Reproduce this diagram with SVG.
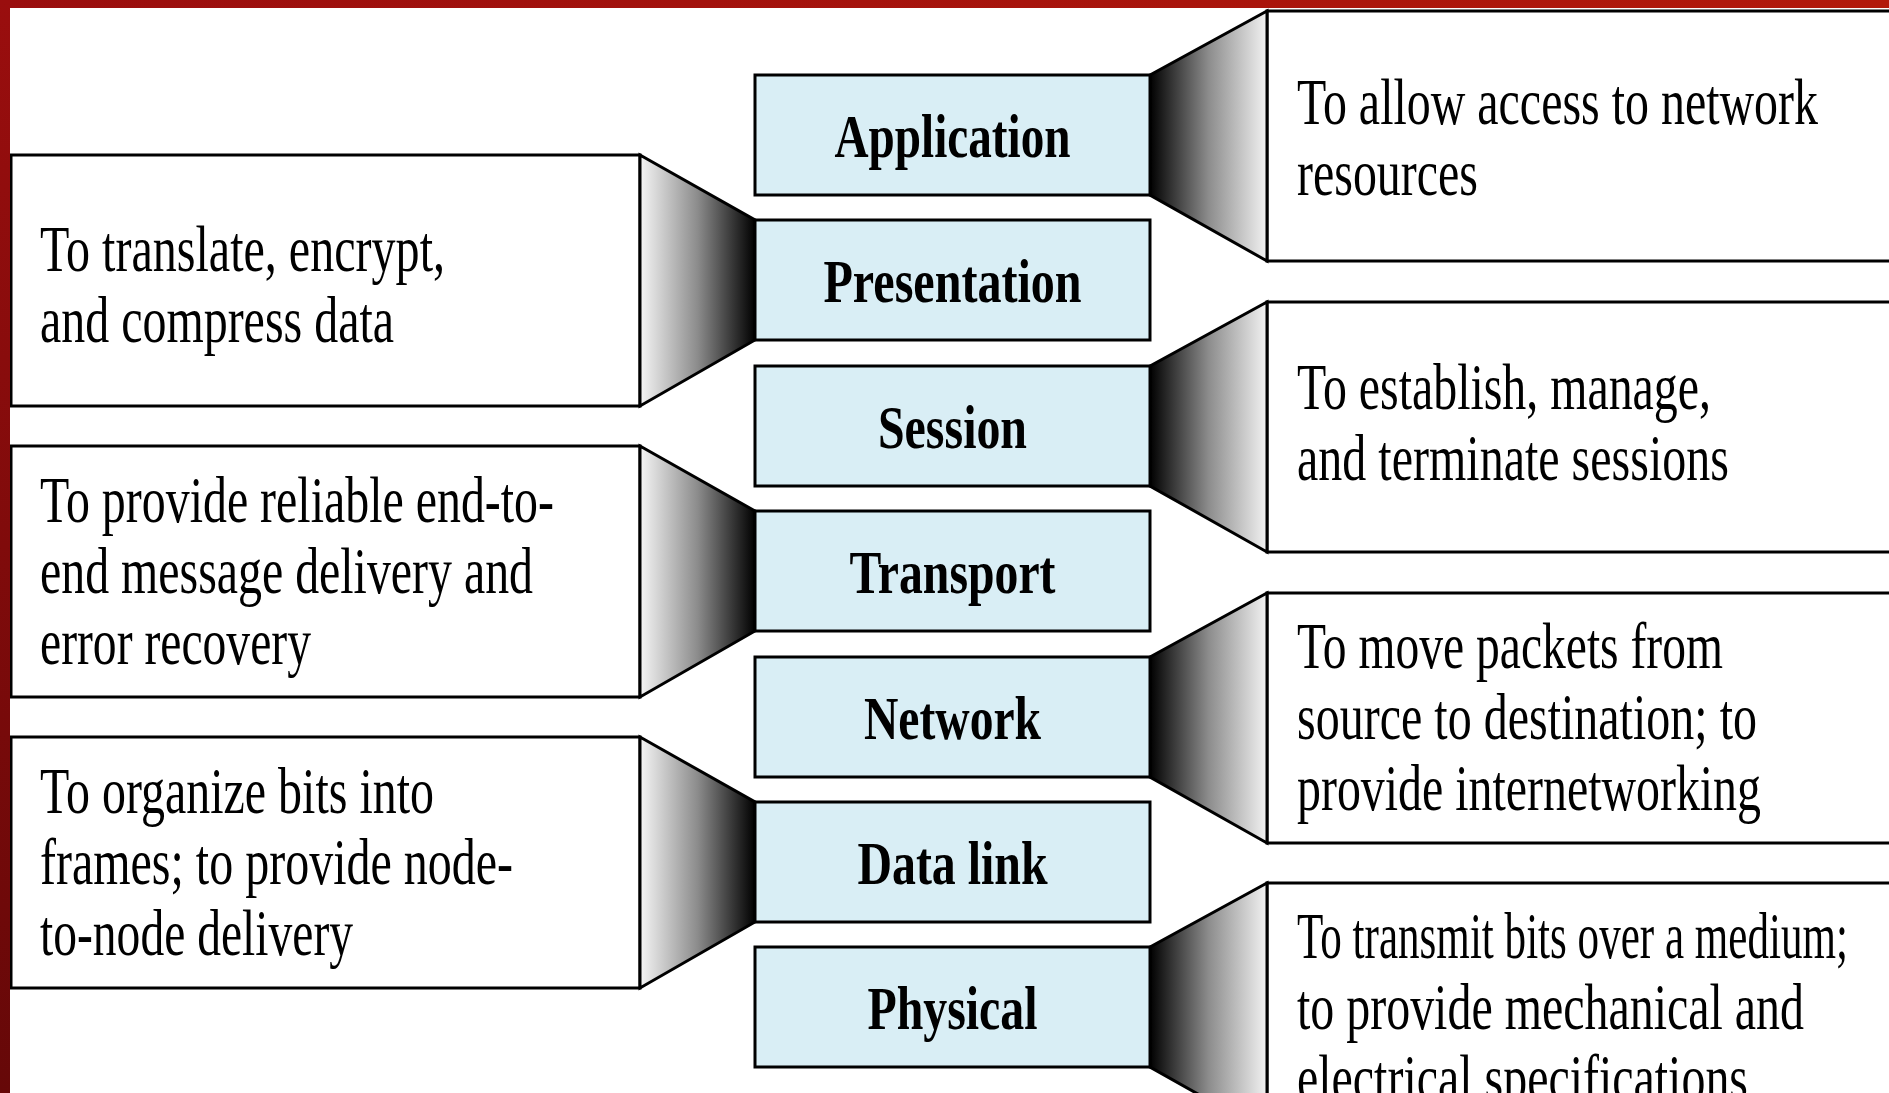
<svg xmlns="http://www.w3.org/2000/svg" width="1889" height="1093" viewBox="0 0 1889 1093">
  <defs>
    <linearGradient id="fadeToLayer" x1="0" y1="0" x2="1" y2="0">
      <stop offset="0" stop-color="#f5f5f5"/>
      <stop offset="0.5" stop-color="#8c8c8c"/>
      <stop offset="1" stop-color="#000"/>
    </linearGradient>
    <linearGradient id="fadeFromLayer" x1="0" y1="0" x2="1" y2="0">
      <stop offset="0" stop-color="#000"/>
      <stop offset="0.5" stop-color="#8c8c8c"/>
      <stop offset="1" stop-color="#f2f2f2"/>
    </linearGradient>
    <linearGradient id="frameTop" x1="0" y1="0" x2="1" y2="0">
      <stop offset="0" stop-color="#9a0e0e"/>
      <stop offset="1" stop-color="#b2190b"/>
    </linearGradient>
    <linearGradient id="frameLeft" x1="0" y1="0" x2="0" y2="1">
      <stop offset="0" stop-color="#9a0e0e"/>
      <stop offset="1" stop-color="#660808"/>
    </linearGradient>
  </defs>
  <style>
    .desc { fill: #fff; stroke: #000; stroke-width: 3; }
    .layer { fill: #d9eef5; stroke: #000; stroke-width: 3; }
    .wedgeL { fill: url(#fadeToLayer); stroke: #000; stroke-width: 3; stroke-linejoin: miter; }
    .wedgeR { fill: url(#fadeFromLayer); stroke: #000; stroke-width: 3; stroke-linejoin: miter; }
    .lbl { font-family: "Liberation Serif", "Times New Roman", serif; font-weight: bold; font-size: 62px; fill: #000; }
    /* tall, narrow face: set small and stretched vertically */
    .txt { font-family: "Liberation Serif", "Times New Roman", serif; font-size: 46px; fill: #000; }
  </style>

  <rect width="1889" height="1093" fill="#fff"/>

  <!-- description boxes, left column -->
  <g id="desc-presentation">
    <rect class="desc" x="11" y="155" width="629" height="251"/>
    <text class="txt" transform="translate(40,271) scale(1,1.41)" textLength="405" lengthAdjust="spacingAndGlyphs">To translate, encrypt,</text>
    <text class="txt" transform="translate(40,342) scale(1,1.41)" textLength="354" lengthAdjust="spacingAndGlyphs">and compress data</text>
  </g>
  <g id="desc-transport">
    <rect class="desc" x="11" y="446" width="629" height="251"/>
    <text class="txt" transform="translate(40,522) scale(1,1.41)" textLength="514" lengthAdjust="spacingAndGlyphs">To provide reliable end-to-</text>
    <text class="txt" transform="translate(40,593) scale(1,1.41)" textLength="493" lengthAdjust="spacingAndGlyphs">end message delivery and</text>
    <text class="txt" transform="translate(40,664) scale(1,1.41)" textLength="271" lengthAdjust="spacingAndGlyphs">error recovery</text>
  </g>
  <g id="desc-datalink">
    <rect class="desc" x="11" y="737" width="629" height="251"/>
    <text class="txt" transform="translate(40,813) scale(1,1.41)" textLength="394" lengthAdjust="spacingAndGlyphs">To organize bits into</text>
    <text class="txt" transform="translate(40,884) scale(1,1.41)" textLength="473" lengthAdjust="spacingAndGlyphs">frames; to provide node-</text>
    <text class="txt" transform="translate(40,955) scale(1,1.41)" textLength="313" lengthAdjust="spacingAndGlyphs">to-node delivery</text>
  </g>

  <!-- description boxes, right column -->
  <g id="desc-application">
    <rect class="desc" x="1267" y="11" width="640" height="250"/>
    <text class="txt" transform="translate(1297,124) scale(1,1.41)" textLength="521" lengthAdjust="spacingAndGlyphs">To allow access to network</text>
    <text class="txt" transform="translate(1297,195) scale(1,1.41)" textLength="181" lengthAdjust="spacingAndGlyphs">resources</text>
  </g>
  <g id="desc-session">
    <rect class="desc" x="1267" y="302" width="640" height="250"/>
    <text class="txt" transform="translate(1297,409) scale(1,1.41)" textLength="414" lengthAdjust="spacingAndGlyphs">To establish, manage,</text>
    <text class="txt" transform="translate(1297,480) scale(1,1.41)" textLength="432" lengthAdjust="spacingAndGlyphs">and terminate sessions</text>
  </g>
  <g id="desc-network">
    <rect class="desc" x="1267" y="593" width="640" height="250"/>
    <text class="txt" transform="translate(1297,668) scale(1,1.41)" textLength="426" lengthAdjust="spacingAndGlyphs">To move packets from</text>
    <text class="txt" transform="translate(1297,739) scale(1,1.41)" textLength="460" lengthAdjust="spacingAndGlyphs">source to destination; to</text>
    <text class="txt" transform="translate(1297,810) scale(1,1.41)" textLength="464" lengthAdjust="spacingAndGlyphs">provide internetworking</text>
  </g>
  <g id="desc-physical">
    <rect class="desc" x="1267" y="883" width="640" height="250"/>
    <text class="txt" transform="translate(1297,958) scale(1,1.41)" textLength="551" lengthAdjust="spacingAndGlyphs">To transmit bits over a medium;</text>
    <text class="txt" transform="translate(1297,1029) scale(1,1.41)" textLength="507" lengthAdjust="spacingAndGlyphs">to provide mechanical and</text>
    <text class="txt" transform="translate(1297,1100) scale(1,1.41)" textLength="451" lengthAdjust="spacingAndGlyphs">electrical specifications</text>
  </g>

  <!-- shaded wedges joining each layer to its description -->
  <g id="connectors">
    <polygon class="wedgeR" points="1150,75 1267,11 1267,261 1150,195"/>
    <polygon class="wedgeL" points="640,155 755,220 755,340 640,406"/>
    <polygon class="wedgeR" points="1150,366 1267,302 1267,552 1150,486"/>
    <polygon class="wedgeL" points="640,446 755,511 755,631 640,697"/>
    <polygon class="wedgeR" points="1150,657 1267,593 1267,843 1150,777"/>
    <polygon class="wedgeL" points="640,737 755,802 755,922 640,988"/>
    <polygon class="wedgeR" points="1150,947 1267,883 1267,1133 1150,1067"/>
  </g>

  <!-- the seven layers -->
  <g id="layer-application">
    <rect class="layer" x="755" y="75" width="395" height="120"/>
    <text class="lbl" x="834.5" y="157" textLength="236" lengthAdjust="spacingAndGlyphs">Application</text>
  </g>
  <g id="layer-presentation">
    <rect class="layer" x="755" y="220" width="395" height="120"/>
    <text class="lbl" x="823.5" y="302" textLength="258" lengthAdjust="spacingAndGlyphs">Presentation</text>
  </g>
  <g id="layer-session">
    <rect class="layer" x="755" y="366" width="395" height="120"/>
    <text class="lbl" x="878" y="448" textLength="149" lengthAdjust="spacingAndGlyphs">Session</text>
  </g>
  <g id="layer-transport">
    <rect class="layer" x="755" y="511" width="395" height="120"/>
    <text class="lbl" x="849.5" y="593" textLength="206" lengthAdjust="spacingAndGlyphs">Transport</text>
  </g>
  <g id="layer-network">
    <rect class="layer" x="755" y="657" width="395" height="120"/>
    <text class="lbl" x="864" y="739" textLength="177" lengthAdjust="spacingAndGlyphs">Network</text>
  </g>
  <g id="layer-datalink">
    <rect class="layer" x="755" y="802" width="395" height="120"/>
    <text class="lbl" x="857.5" y="884" textLength="190" lengthAdjust="spacingAndGlyphs">Data link</text>
  </g>
  <g id="layer-physical">
    <rect class="layer" x="755" y="947" width="395" height="120"/>
    <text class="lbl" x="867.5" y="1029" textLength="170" lengthAdjust="spacingAndGlyphs">Physical</text>
  </g>

  <!-- slide frame -->
  <rect x="0" y="0" width="1889" height="8" fill="url(#frameTop)"/>
  <rect x="0" y="0" width="10" height="1093" fill="url(#frameLeft)"/>
</svg>
